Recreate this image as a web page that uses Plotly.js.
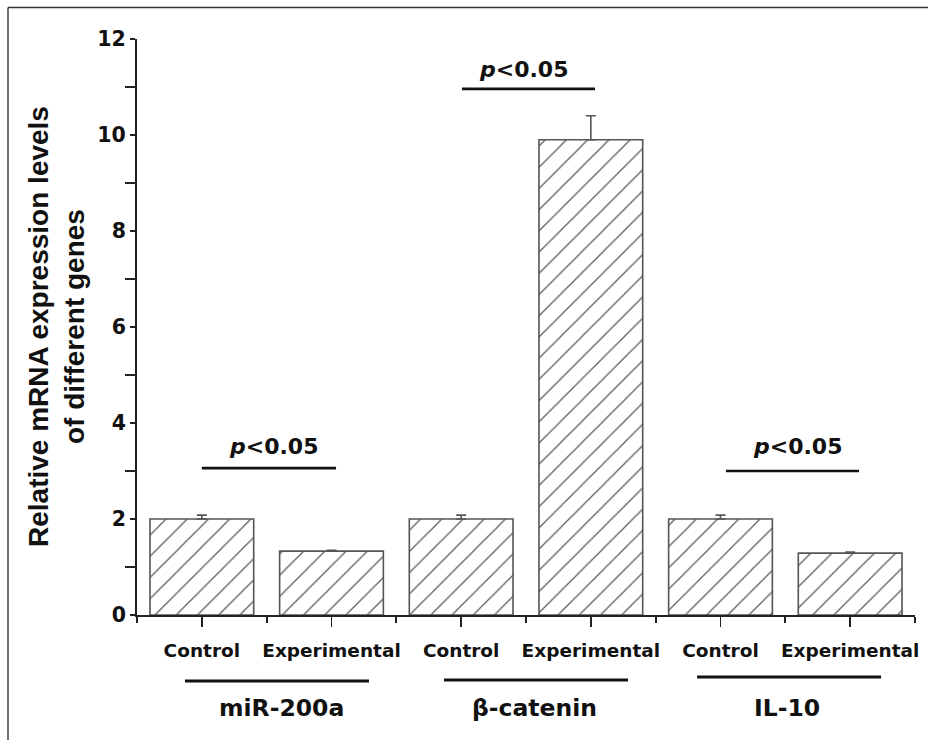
<!DOCTYPE html>
<html>
<head>
<meta charset="utf-8">
<script src="https://cdn.plot.ly/plotly-3.0.1.min.js"></script>
<style>
  html, body { margin: 0; padding: 0; background: #ffffff; overflow: hidden; }
  #chart { width: 928px; height: 740px; }
</style>
</head>
<body>
<div id="chart"></div>
<script>
// ---- data ----
const genes = ['miR-200a', 'β-catenin', 'IL-10'];
const conditions = ['Control', 'Experimental'];
const tickLabels = ['Control', 'Experimental', 'Control', 'Experimental', 'Control', 'Experimental'];
const values = [2.0, 1.33, 2.0, 9.9, 2.0, 1.29];
const errors = [0.08, 0.02, 0.08, 0.5, 0.08, 0.02];
const pText = 'p<0.05';
const yTitleLines = ['Relative mRNA expression levels', 'of different genes'];
const yTicks = [0, 2, 4, 6, 8, 10, 12];

// ---- styling / layout ----
const W = 928, H = 740;
const M = { l: 137, r: 13, t: 39, b: 125 };
const plotW = W - M.l - M.r, plotH = H - M.t - M.b;
const xIdx = tickLabels.map((_, i) => i);
const nCat = xIdx.length;
const toPaperX = d => (d + 0.5) / nCat;       // data x -> paper x
const pxToPaperX = px => (px - M.l) / plotW;
const pxToPaperY = py => (M.t + plotH - py) / plotH;

const hFont = 'DejaVu Sans, Arial, sans-serif';
const vFont = 'Liberation Sans, Arial, sans-serif';
const ink = '#111111';

const trace = {
  type: 'bar',
  x: xIdx,
  y: values,
  width: 0.8,
  marker: {
    color: '#ffffff',
    line: { color: '#555555', width: 1.6 },
    pattern: { shape: '/', size: 15, solidity: 0.08, fgcolor: '#585858', bgcolor: '#ffffff' }
  },
  error_y: {
    type: 'data', symmetric: false, array: errors, arrayminus: errors.map(() => 0),
    visible: true, color: '#555555', thickness: 1.6, width: 5
  },
  hoverinfo: 'skip',
  showlegend: false
};

// significance bars: [x0, x1, y] per gene, text [x, y]
const sigLines = [[0.0, 1.035, 3.06], [2.006, 3.032, 10.96], [4.042, 5.068, 3.0]];
const sigText = [[0.549, 3.51], [2.477, 11.36], [4.59, 3.52]];
// group underline (data x) & label positions
const grpLines = [[-0.13, 1.289, 681], [1.868, 3.287, 680], [3.819, 5.238, 677]];
const grpText = [0.618, 2.569, 4.513];

const shapes = [];
const annotations = [];

sigLines.forEach(s => shapes.push({
  type: 'line', xref: 'x', yref: 'y', x0: s[0], x1: s[1], y0: s[2], y1: s[2],
  line: { color: ink, width: 2.6 }
}));
sigText.forEach(s => annotations.push({
  xref: 'x', yref: 'y', x: s[0], y: s[1], xanchor: 'center', yanchor: 'middle',
  text: '<b><i>p</i>&lt;0.05</b>', showarrow: false,
  font: { family: hFont, size: 22, color: ink }
}));
grpLines.forEach(g => shapes.push({
  type: 'line', xref: 'paper', yref: 'paper',
  x0: toPaperX(g[0]), x1: toPaperX(g[1]), y0: pxToPaperY(g[2]), y1: pxToPaperY(g[2]),
  line: { color: ink, width: 2.8 }
}));
genes.forEach((g, i) => annotations.push({
  xref: 'paper', yref: 'paper', x: toPaperX(grpText[i]), y: pxToPaperY(708),
  xanchor: 'center', yanchor: 'middle', text: '<b>' + g + '</b>', showarrow: false,
  font: { family: hFont, size: 23.5, color: ink }
}));
// y axis title
annotations.push({
  xref: 'paper', yref: 'paper', x: pxToPaperX(56), y: 0.5,
  xanchor: 'center', yanchor: 'middle', textangle: -90,
  text: '<b>' + yTitleLines.join('<br>') + '</b>', showarrow: false,
  font: { family: vFont, size: 28, color: ink }
});
// figure frame: only top and left edges visible in the reference
shapes.push({
  type: 'line', xref: 'paper', yref: 'paper',
  x0: pxToPaperX(8), x1: pxToPaperX(928), y0: pxToPaperY(7.5), y1: pxToPaperY(7.5),
  line: { color: '#333333', width: 1.4 }
});
shapes.push({
  type: 'line', xref: 'paper', yref: 'paper',
  x0: pxToPaperX(8), x1: pxToPaperX(8), y0: pxToPaperY(7.5), y1: pxToPaperY(740),
  line: { color: '#333333', width: 1.4 }
});
// short extension of the baseline left of the y axis
shapes.push({
  type: 'line', xref: 'paper', yref: 'y',
  x0: pxToPaperX(132), x1: 0, y0: 0, y1: 0,
  line: { color: '#222', width: 2 }
});

const layout = {
  width: W, height: H,
  margin: M,
  paper_bgcolor: '#ffffff', plot_bgcolor: '#ffffff',
  bargap: 0.2,
  xaxis: {
    range: [-0.5, 5.5],
    tickmode: 'array', tickvals: xIdx, ticktext: tickLabels,
    ticks: 'outside', ticklen: 10, tickwidth: 1.8, tickcolor: '#222',
    showline: true, linecolor: '#222', linewidth: 2,
    showgrid: false, zeroline: false,
    ticklabelstandoff: 8,
    tickfont: { family: hFont, size: 18.5, color: ink, weight: 'bold' },
    minor: { tickmode: 'array', tickvals: [-0.5, 0.5, 1.5, 2.5, 3.5, 4.5, 5.5], ticks: 'outside', ticklen: 6, tickwidth: 1.8, tickcolor: '#222', showgrid: false }
  },
  yaxis: {
    range: [0, 12],
    tickmode: 'array', tickvals: yTicks,
    ticks: 'outside', ticklen: 5, tickwidth: 1.8, tickcolor: '#222',
    showline: true, linecolor: '#222', linewidth: 2,
    showgrid: false, zeroline: false,
    tickfont: { family: hFont, size: 20.5, color: ink, weight: 'bold' },
    minor: { tickmode: 'array', tickvals: [1, 3, 5, 7, 9, 11], ticks: 'outside', ticklen: 10, tickwidth: 1.8, tickcolor: '#222', showgrid: false }
  },
  shapes: shapes,
  annotations: annotations
};

Plotly.newPlot('chart', [trace], layout, { displayModeBar: false, staticPlot: true });
</script>
</body>
</html>
